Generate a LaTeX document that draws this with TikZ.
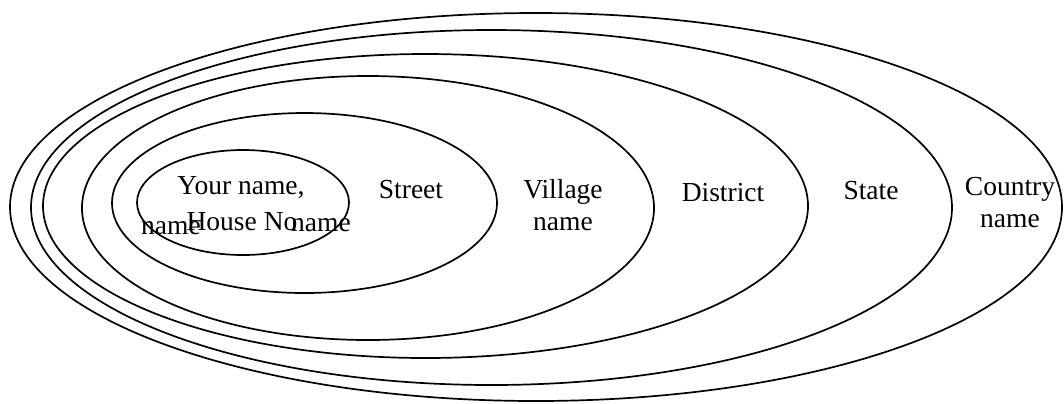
\documentclass[tikz,border=0pt]{standalone}
\usepackage{fontspec}
\setmainfont{Liberation Serif}
\usetikzlibrary{shapes.geometric}
\begin{document}
\begin{tikzpicture}[x=0.5pt,y=-0.5pt,
  ring/.style={draw, ellipse, line width=0.85pt, inner sep=0pt, outer sep=0pt},
  lbl/.style={font=\fontsize{13.75}{16}\selectfont, inner sep=0pt, align=center}]
\useasboundingbox (0,0) rectangle (1064,403);
% rings: minimum width in pt = x radius in px (scale 0.5pt/px)
\node[ring, minimum width=526pt, minimum height=194pt]   (country)  at (536,207) {};
\node[ring, minimum width=460.5pt, minimum height=177.5pt] (state)  at (491.5,207.5) {};
\node[ring, minimum width=382.5pt, minimum height=152pt] (district) at (425.5,206) {};
\node[ring, minimum width=286pt, minimum height=132pt]   (village)  at (368,208) {};
\node[ring, minimum width=192.5pt, minimum height=90pt]  (street)   at (304.5,203) {};
\node[ring, minimum width=106pt, minimum height=52.5pt]  (house)    at (243,202.5) {};
% labels
\node[lbl] (yourname) at (241,188) {Your name,};
\node[lbl] (houseno)  at (242,222) {House No};
\node[lbl] (nameL)    at (171,228) {name};
\node[lbl] (nameR)    at (321,225) {name};
\node[lbl] (streetl)  at (411,190) {Street};
\node[lbl] (villagel) at (563,205) {Village\\name};
\node[lbl] (districtl) at (723,193) {District};
\node[lbl] (statel)   at (871,191) {State};
\node[lbl] (countryl) at (1010,203) {Country\\name};
\end{tikzpicture}
\end{document}
